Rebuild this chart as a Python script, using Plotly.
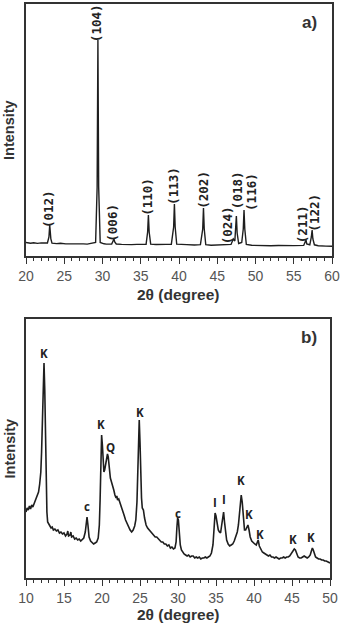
import plotly.graph_objects as go

# ---------- Panel a: XRD pattern (2theta, intensity) ----------
a_x = [20.0, 20.6, 21.0, 21.5, 22.0, 22.5, 22.8, 23.0, 23.1, 23.25, 23.4, 24.0, 24.5, 25.2, 26.0, 26.8, 27.5, 28.0, 28.5, 29.1,
       29.3, 29.4, 29.5, 29.7, 30.2, 30.5, 31.2, 31.4, 31.5, 31.6, 31.8, 32.5, 33.0, 33.8, 34.5, 35.2, 35.7, 35.9, 36.0, 36.1,
       36.3, 37.0, 37.5, 38.3, 39.0, 39.3, 39.4, 39.5, 39.7, 40.4, 41.0, 42.0, 42.8, 43.1, 43.2, 43.3, 43.5, 44.2, 45.0, 46.0,
       46.8, 47.1, 47.3, 47.5, 47.6, 47.8, 48.2, 48.4, 48.5, 48.6, 48.8, 49.5, 50.0, 51.0, 52.0, 53.0, 54.0, 55.0, 56.3, 56.5,
       56.6, 56.7, 57.1, 57.3, 57.4, 57.5, 57.7, 58.2, 58.5, 59.2, 60.0]
a_y = [4.5, 3.8, 4.2, 3.6, 4.1, 3.7, 4.0, 10, 22, 8, 3.9, 3.4, 3.7, 3.1, 3.3, 2.8, 3.1, 2.9, 3.3, 4.5,
       60, 207, 60, 4.5, 3.2, 2.9, 3.0, 6, 8, 5, 3.0, 2.6, 2.8, 2.4, 2.6, 2.3, 2.8, 15, 32, 15,
       2.8, 2.5, 2.3, 2.6, 2.8, 20, 43, 20, 2.8, 2.2, 2.4, 2.0, 2.3, 18, 39, 18, 2.3, 1.8, 2.0, 1.7,
       2.6, 8, 6, 31, 14, 3.5, 4.5, 18, 37, 18, 2.5, 1.7, 1.5, 1.8, 1.2, 1.5, 1.1, 1.4, 1.6, 5,
       7, 3, 2.2, 10, 17, 8, 2.2, 1.3, 1.4, 0.9, 0.8]

a_labels = ["(012)", "(104)", "(006)", "(110)", "(113)", "(202)", "(024)", "(018)", "(116)", "(211)", "(122)"]
a_lab_x = [22.88, 29.3, 31.2, 35.8, 39.2, 43.1, 46.3, 47.6, 49.4, 56.1, 57.6]
a_lab_y = [38, 224, 24, 50, 61, 57, 22, 57, 55, 23, 34]

# ---------- Panel b: XRD pattern ----------
b_x = [10.0, 10.15, 10.3, 10.45, 10.6, 10.75, 10.9, 11.05, 11.2, 11.35, 11.5, 11.65, 11.8, 11.95, 12.05, 12.15, 12.25, 12.37, 12.47, 12.55,
       12.65, 12.75, 12.85, 13.0, 13.15, 13.3, 13.45, 13.6, 13.8, 14.0, 14.2, 14.4, 14.6, 14.8, 15.0, 15.2, 15.4, 15.5, 15.6, 15.8,
       15.9, 16.0, 16.2, 16.4, 16.6, 16.8, 17.0, 17.2, 17.4, 17.6, 17.8, 17.92, 18.03, 18.15, 18.3, 18.5, 18.7, 18.9, 19.1, 19.3,
       19.5, 19.65, 19.75, 19.85, 19.95, 20.05, 20.15, 20.25, 20.35, 20.5, 20.6, 20.72, 20.82, 20.95, 21.1, 21.25, 21.4, 21.55, 21.7, 21.85,
       21.95, 22.05, 22.2, 22.35, 22.5, 22.7, 22.9, 23.1, 23.3, 23.5, 23.7, 23.9, 24.1, 24.3, 24.45, 24.6, 24.72, 24.82, 24.9, 25.0,
       25.1, 25.2, 25.3, 25.45, 25.6, 25.8, 26.0, 26.2, 26.4, 26.6, 26.8, 27.0, 27.2, 27.4, 27.6, 27.8, 28.0, 28.2, 28.4, 28.6,
       28.8, 29.0, 29.2, 29.4, 29.6, 29.75, 29.85, 29.95, 30.05, 30.15, 30.3, 30.45, 30.6, 30.8, 31.0, 31.2, 31.4, 31.6, 31.8, 32.0,
       32.2, 32.4, 32.6, 32.8, 33.0, 33.2, 33.4, 33.6, 33.8, 34.0, 34.2, 34.4, 34.6, 34.75, 34.88, 35.0, 35.15, 35.3, 35.45, 35.6,
       35.75, 35.88, 36.0, 36.12, 36.25, 36.4, 36.6, 36.8, 37.0, 37.2, 37.4, 37.6, 37.8, 37.95, 38.1, 38.22, 38.32, 38.45, 38.6, 38.75,
       38.9, 39.05, 39.2, 39.35, 39.5, 39.7, 39.9, 40.1, 40.3, 40.45, 40.55, 40.7, 40.9, 41.1, 41.3, 41.5, 41.7, 41.9, 42.1, 42.3,
       42.5, 42.7, 42.9, 43.1, 43.3, 43.5, 43.7, 43.9, 44.1, 44.3, 44.5, 44.7, 44.9, 45.1, 45.3, 45.45, 45.6, 45.8, 46.0, 46.2,
       46.4, 46.6, 46.8, 47.0, 47.2, 47.4, 47.55, 47.68, 47.8, 47.95, 48.1, 48.3, 48.5, 48.7, 48.9, 49.1, 49.3, 49.5, 49.7, 49.85,
       50.0]
b_y = [58, 62, 60, 64, 61, 65, 63, 66, 67, 70, 73, 78, 86, 98, 118, 150, 190, 207, 180, 130,
       85, 58, 48, 45, 44, 42, 43, 40, 41, 39, 40, 37, 38, 36, 37, 34, 36, 39, 34, 35,
       38, 33, 34, 31, 32, 30, 31, 29, 31, 32, 38, 48, 53, 45, 33, 29, 27, 26, 27, 28,
       32, 45, 70, 115, 135, 125, 105, 98, 100, 108, 112, 116, 113, 100, 92, 88, 82, 80, 75, 72,
       74, 70, 71, 67, 65, 60, 55, 50, 46, 42, 40, 38, 40, 44, 50, 68, 100, 135, 150, 128,
       90, 72, 62, 60, 52, 45, 42, 40, 38, 36, 35, 33, 33, 31, 30, 28, 28, 26, 26, 24,
       25, 22, 23, 21, 22, 28, 42, 52, 50, 38, 25, 20, 18, 16, 15, 14, 15, 13, 14, 14,
       12, 13, 12, 13, 11, 12, 12, 13, 12, 13, 14, 17, 25, 42, 57, 54, 45, 40, 38, 37,
       45, 56, 58, 48, 36, 30, 26, 24, 25, 26, 29, 33, 38, 45, 55, 68, 75, 68, 50, 40,
       40, 43, 45, 40, 33, 29, 27, 26, 25, 28, 30, 24, 20, 18, 17, 16, 15, 14, 15, 13,
       13, 12, 13, 12, 11, 12, 12, 13, 12, 13, 13, 14, 16, 19, 21, 20, 16, 13, 12, 12,
       13, 14, 13, 12, 13, 15, 19, 22, 20, 15, 13, 12, 11, 11, 10, 10, 9, 9, 8, 8,
       7]

b_labels = ["K", "c", "K", "Q", "K", "c", "I", "I", "K", "K", "K", "K", "K"]
b_lab_x = [12.37, 18.03, 19.87, 21.18, 25.0, 30.0, 34.87, 36.05, 38.29, 39.34, 40.79, 45.13, 47.5]
b_lab_y = [217, 64, 146, 123, 158, 57, 68, 71, 90, 56, 36, 31, 33]

W, H = 342, 624
LINE = "#1e1e1e"
FRAME = "#333333"
TICKC = "#555555"

fig = go.Figure()
fig.add_trace(go.Scatter(x=a_x, y=a_y, mode="lines", line=dict(color=LINE, width=1.4),
                         xaxis="x", yaxis="y", showlegend=False, hoverinfo="skip"))
fig.add_trace(go.Scatter(x=b_x, y=b_y, mode="lines", line=dict(color=LINE, width=1.6),
                         xaxis="x2", yaxis="y2", showlegend=False, hoverinfo="skip"))

def px_x(p):
    return p / W

def px_y(p):
    return 1 - p / H

xcommon = dict(showline=True, mirror=True, linecolor=FRAME, linewidth=1.5, ticks="outside", ticklen=6,
               tickwidth=1.3, tickcolor=FRAME, showgrid=False, zeroline=False, dtick=5,
               tickfont=dict(family="Liberation Sans", size=14, color=TICKC),
               minor=dict(ticks="outside", dtick=1, ticklen=3, tickcolor=FRAME, tickwidth=1),
               automargin=False, fixedrange=True)
ycommon = dict(showline=True, mirror=True, linecolor=FRAME, linewidth=1.5, ticks="", showticklabels=False,
               showgrid=False, zeroline=False, automargin=False, fixedrange=True)

fig.update_layout(
    width=W, height=H, margin=dict(l=0, r=0, t=0, b=0),
    paper_bgcolor="white", plot_bgcolor="white",
    xaxis=dict(xcommon, domain=[px_x(26), px_x(332)], range=[20, 60], anchor="y", tick0=20),
    yaxis=dict(ycommon, domain=[px_y(256), px_y(4)], range=[-9, 243], anchor="x"),
    xaxis2=dict(xcommon, domain=[px_x(26), px_x(330)], range=[10, 50], anchor="y2", tick0=10),
    yaxis2=dict(ycommon, domain=[px_y(578), px_y(319)], range=[-8, 251], anchor="x2"),
)

ann = []
for t, x, y in zip(a_labels, a_lab_x, a_lab_y):
    ann.append(dict(text=t, x=x, y=y, xref="x", yref="y", textangle=-90, showarrow=False,
                    xanchor="center", yanchor="middle",
                    font=dict(family="DejaVu Sans Mono, Liberation Mono, monospace", size=12.5,
                              color="#222222", weight="bold")))
for t, x, y in zip(b_labels, b_lab_x, b_lab_y):
    ann.append(dict(text=t, x=x, y=y, xref="x2", yref="y2", showarrow=False,
                    xanchor="center", yanchor="middle",
                    font=dict(family="Open Sans", size=11.5, color="#222222", weight="bold")))

title_font = dict(family="Liberation Sans", size=15.5, color="#333333", weight="bold")
for ytop, ybot, ytitle, panel, ypanel in [(4, 256, 294, "a)", 23), (319, 578, 614, "b)", 337)]:
    ann.append(dict(text="Intensity", x=px_x(9), y=px_y((ytop + ybot) / 2), xref="paper", yref="paper",
                    textangle=-90, showarrow=False, xanchor="center", yanchor="middle",
                    font=dict(family="Liberation Sans", size=14.5, color="#333333", weight="bold")))
    ann.append(dict(text="2θ (degree)", x=px_x(178), y=px_y(ytitle), xref="paper", yref="paper",
                    showarrow=False, xanchor="center", yanchor="middle", font=title_font))
    ann.append(dict(text=panel, x=px_x(309), y=px_y(ypanel), xref="paper", yref="paper",
                    showarrow=False, xanchor="center", yanchor="middle",
                    font=dict(family="Liberation Sans", size=17, color="#333333", weight="bold")))

fig.update_layout(annotations=ann)
fig.write_html("out.html")
